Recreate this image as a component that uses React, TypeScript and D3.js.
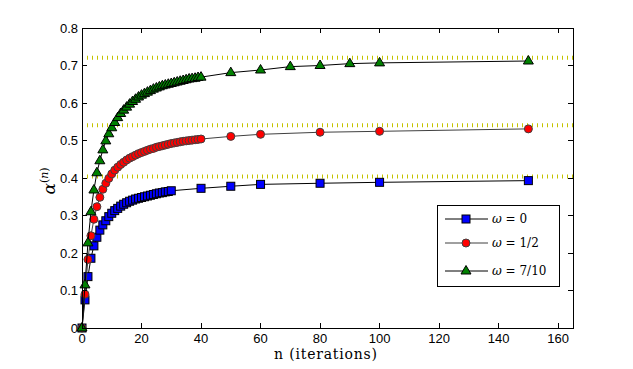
import React from "react";
import * as d3 from "d3";

// n values for each series (dense start, then sparse tail)
const nBlue = [0, 1, 2, 3, 4, 5, 6, 7, 8, 9, 10, 11, 12, 13, 14, 15, 16, 17, 18, 19, 20,
  21, 22, 23, 24, 25, 26, 27, 28, 29, 30, 40, 50, 60, 80, 100, 150];
const alphaBlue = [0, 0.075, 0.137, 0.186, 0.219, 0.242, 0.261, 0.275, 0.286, 0.297, 0.306,
  0.313, 0.319, 0.325, 0.33, 0.334, 0.338, 0.341, 0.344, 0.346, 0.348,
  0.35, 0.352, 0.354, 0.356, 0.358, 0.36, 0.361, 0.363, 0.364, 0.366,
  0.3725, 0.378, 0.383, 0.386, 0.3885, 0.393];

const nRed = [0, 1, 2, 3, 4, 5, 6, 7, 8, 9, 10, 11, 12, 13, 14, 15, 16, 17, 18, 19, 20,
  21, 22, 23, 24, 25, 26, 27, 28, 29, 30, 31, 32, 33, 34, 35, 36, 37, 38, 39, 40,
  50, 60, 80, 100, 150];
const alphaRed = [0, 0.09, 0.183, 0.246, 0.29, 0.3235, 0.3485, 0.37, 0.386, 0.399, 0.411,
  0.421, 0.429, 0.436, 0.442, 0.448, 0.453, 0.457, 0.461, 0.465, 0.468,
  0.471, 0.474, 0.477, 0.479, 0.482, 0.484, 0.486, 0.488, 0.49, 0.492,
  0.4935, 0.495, 0.4965, 0.498, 0.499, 0.5, 0.501, 0.502, 0.503, 0.504,
  0.511, 0.5165, 0.522, 0.5245, 0.531];

const nGreen = [0, 1, 2, 3, 4, 5, 6, 7, 8, 9, 10, 11, 12, 13, 14, 15, 16, 17, 18, 19, 20,
  21, 22, 23, 24, 25, 26, 27, 28, 29, 30, 31, 32, 33, 34, 35, 36, 37, 38, 39, 40,
  50, 60, 70, 80, 90, 100, 150];
const alphaGreen = [0, 0.115, 0.227, 0.31, 0.368, 0.414, 0.446, 0.475, 0.499, 0.518, 0.534,
  0.548, 0.561, 0.572, 0.581, 0.589, 0.597, 0.604, 0.61, 0.616, 0.621,
  0.625, 0.629, 0.633, 0.637, 0.64, 0.643, 0.646, 0.648, 0.65, 0.652,
  0.654, 0.656, 0.658, 0.66, 0.662, 0.664, 0.665, 0.666, 0.668, 0.669,
  0.681, 0.688, 0.697, 0.7, 0.705, 0.707, 0.712];

const limits = [0.721, 0.541, 0.404];
const xTicks = [0, 20, 40, 60, 80, 100, 120, 140, 160];
const yTicks = [0, 0.1, 0.2, 0.3, 0.4, 0.5, 0.6, 0.7, 0.8];
const legendLabels = ["0", "1/2", "7/10"];

const W = 633, H = 369;
const m = { left: 82, right: 60, top: 28, bottom: 41 };

const x = d3.scaleLinear().domain([0, 165]).range([m.left, W - m.right]);
const y = d3.scaleLinear().domain([0, 0.8]).range([H - m.bottom, m.top]);

const triPath = "M0,-5.5L5,3L-5,3Z";

const Marker = ({ kind, cx, cy }) => {
  if (kind === "square")
    return <rect x={cx - 4} y={cy - 4} width={8} height={8} fill="#0000ff" stroke="#000" strokeWidth={1} />;
  if (kind === "circle")
    return <circle cx={cx} cy={cy} r={4} fill="#ff0000" stroke="#404040" strokeWidth={1} />;
  return <path d={triPath} transform={`translate(${cx},${cy})`} fill="#008000" stroke="#000" strokeWidth={1} />;
};

const series = [
  { xs: nBlue, ys: alphaBlue, kind: "square", line: "#000" },
  { xs: nRed, ys: alphaRed, kind: "circle", line: "#404040" },
  { xs: nGreen, ys: alphaGreen, kind: "triangle", line: "#000" },
];

export default function App() {
  const line = d3.line<[number, number]>().x(d => x(d[0])).y(d => y(d[1]));
  const x0 = m.left, x1 = W - m.right, y0 = H - m.bottom, y1 = m.top;
  const tickFont = { fontFamily: "Liberation Sans, Arial, sans-serif", fontSize: 13 };

  return (
    <div style={{ position: "fixed", left: 0, top: 0 }}>
      <svg width={W} height={H} style={{ display: "block", background: "#fff" }}>
        {limits.map((v, i) => (
          <line key={i} x1={x0} x2={x1} y1={y(v)} y2={y(v)} stroke="#c4c400" strokeWidth={4} strokeDasharray="1 4" />
        ))}
        {series.map((s, i) => (
          <g key={i}>
            <path d={line(s.xs.map((n, j) => [n, s.ys[j]]))!} fill="none" stroke={s.line} strokeWidth={1} />
            {s.xs.map((n, j) => (
              <Marker key={j} kind={s.kind} cx={x(n)} cy={y(s.ys[j])} />
            ))}
          </g>
        ))}
        {/* frame */}
        <rect x={x0} y={y1} width={x1 - x0} height={y0 - y1} fill="none" stroke="#000" strokeWidth={1} shapeRendering="crispEdges" />
        {xTicks.map(t => (
          <g key={t} shapeRendering="crispEdges">
            <line x1={x(t)} x2={x(t)} y1={y0} y2={y0 - 5} stroke="#000" />
            <line x1={x(t)} x2={x(t)} y1={y1} y2={y1 + 5} stroke="#000" />
            <text x={x(t)} y={y0 + 15} textAnchor="middle" {...tickFont}>{t}</text>
          </g>
        ))}
        {yTicks.map(t => (
          <g key={t} shapeRendering="crispEdges">
            <line x1={x0} x2={x0 + 5} y1={y(t)} y2={y(t)} stroke="#000" />
            <line x1={x1} x2={x1 - 5} y1={y(t)} y2={y(t)} stroke="#000" />
            <text x={x0 - 4} y={y(t)} dy="0.35em" textAnchor="end" {...tickFont}>{t === 0 ? "0" : t.toFixed(1)}</text>
          </g>
        ))}
        {/* axis labels */}
        <text x={326} y={359} textAnchor="middle" fontFamily="DejaVu Serif, serif" fontSize={14} letterSpacing={0.8}>n (iterations)</text>
        <text transform={`translate(55,181) rotate(-90)`} textAnchor="middle" fontFamily="DejaVu Serif, serif">
          <tspan fontSize={17} fontStyle="italic">α</tspan>
          <tspan fontSize={11} dy={-7}>(</tspan>
          <tspan fontSize={11} fontStyle="italic">n</tspan>
          <tspan fontSize={11}>)</tspan>
        </text>
        {/* legend */}
        <rect x={437} y={205} width={122} height={81} fill="#fff" stroke="#000" strokeWidth={1} shapeRendering="crispEdges" />
        {series.map((s, i) => {
          const ly = [219, 243, 271][i];
          return (
            <g key={i}>
              <line x1={445} x2={488} y1={ly} y2={ly} stroke={s.line} strokeWidth={1} />
              <Marker kind={s.kind} cx={466} cy={ly} />
              <text x={492} y={ly} dy="0.35em" fontFamily="DejaVu Serif, serif" fontSize={12}>
                <tspan fontStyle="italic">ω</tspan> = {legendLabels[i]}
              </text>
            </g>
          );
        })}
      </svg>
    </div>
  );
}
